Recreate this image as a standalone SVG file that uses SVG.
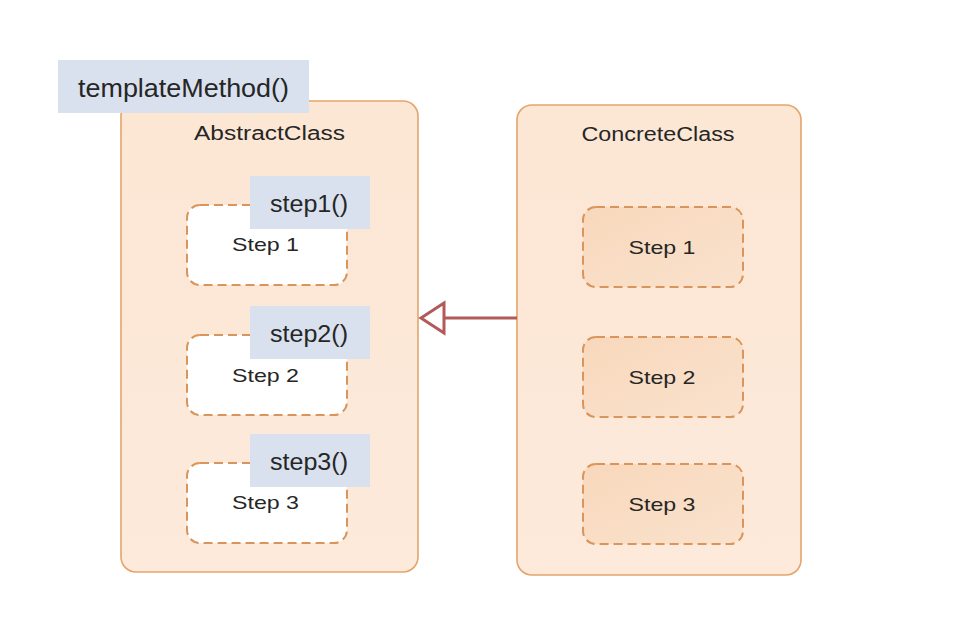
<svg xmlns="http://www.w3.org/2000/svg" width="956" height="644" viewBox="0 0 956 644">
<style>
.cls{fill:url(#gOuter);stroke:#e3a56c;stroke-width:1.6}
.stepA{fill:#ffffff;stroke:#d9955c;stroke-width:2;stroke-dasharray:9 5}
.stepC{fill:url(#gStep);stroke:#d9955c;stroke-width:2;stroke-dasharray:9 5}
.lbl{fill:#d9e1ee}
.t{font-family:"Liberation Sans",Arial,sans-serif;fill:#262626}
.conn{stroke:#b25a5a;stroke-width:3;fill:none}
</style>
<defs>
<linearGradient id="gOuter" x1="0" y1="0" x2="0" y2="1">
<stop offset="0" stop-color="#fce6d4"/>
<stop offset="1" stop-color="#fdeadb"/>
</linearGradient>
<linearGradient id="gStep" x1="0" y1="0" x2="1" y2="1">
<stop offset="0" stop-color="#f8d8bc"/>
<stop offset="1" stop-color="#fae2cd"/>
</linearGradient>
</defs>
<rect width="956" height="644" fill="#ffffff"/>
<g id="abstract-class">
<rect class="cls" x="121" y="101" width="297" height="471" rx="15"/>
<text class="t" x="269.5" y="140" font-size="20" text-anchor="middle" textLength="151" lengthAdjust="spacingAndGlyphs">AbstractClass</text>
</g>
<g id="template-method">
<rect class="lbl" x="58" y="60" width="251" height="53"/>
<text class="t" x="78" y="97" font-size="25" textLength="211" lengthAdjust="spacingAndGlyphs">templateMethod()</text>
</g>
<g id="a-step1">
<rect class="stepA" x="187" y="205" width="160" height="80" rx="13"/>
<text class="t" x="265.5" y="251" font-size="19" text-anchor="middle" textLength="67" lengthAdjust="spacingAndGlyphs">Step 1</text>
<rect class="lbl" x="250" y="176" width="120" height="53"/>
<text class="t" x="270" y="212" font-size="23" textLength="78" lengthAdjust="spacingAndGlyphs">step1()</text>
</g>
<g id="a-step2">
<rect class="stepA" x="187" y="335" width="160" height="80" rx="13"/>
<text class="t" x="265.5" y="382" font-size="19" text-anchor="middle" textLength="67" lengthAdjust="spacingAndGlyphs">Step 2</text>
<rect class="lbl" x="250" y="306" width="120" height="53"/>
<text class="t" x="270" y="342" font-size="23" textLength="78" lengthAdjust="spacingAndGlyphs">step2()</text>
</g>
<g id="a-step3">
<rect class="stepA" x="187" y="463" width="160" height="80" rx="13"/>
<text class="t" x="265.5" y="509" font-size="19" text-anchor="middle" textLength="67" lengthAdjust="spacingAndGlyphs">Step 3</text>
<rect class="lbl" x="250" y="434" width="120" height="53"/>
<text class="t" x="270" y="470" font-size="23" textLength="78" lengthAdjust="spacingAndGlyphs">step3()</text>
</g>
<g id="concrete-class">
<rect class="cls" x="517" y="105" width="284" height="470" rx="15"/>
<text class="t" x="658" y="141" font-size="20" text-anchor="middle" textLength="153" lengthAdjust="spacingAndGlyphs">ConcreteClass</text>
</g>
<g id="c-step1">
<rect class="stepC" x="583" y="207" width="160" height="80" rx="13"/>
<text class="t" x="662" y="254" font-size="19" text-anchor="middle" textLength="67" lengthAdjust="spacingAndGlyphs">Step 1</text>
</g>
<g id="c-step2">
<rect class="stepC" x="583" y="337" width="160" height="80" rx="13"/>
<text class="t" x="662" y="384" font-size="19" text-anchor="middle" textLength="67" lengthAdjust="spacingAndGlyphs">Step 2</text>
</g>
<g id="c-step3">
<rect class="stepC" x="583" y="464" width="160" height="80" rx="13"/>
<text class="t" x="662" y="511" font-size="19" text-anchor="middle" textLength="67" lengthAdjust="spacingAndGlyphs">Step 3</text>
</g>
<g id="connectors">
<line class="conn" x1="517" y1="318" x2="444" y2="318"/>
<polygon class="conn" points="421,318 444,303 444,333"/>
</g>
</svg>
